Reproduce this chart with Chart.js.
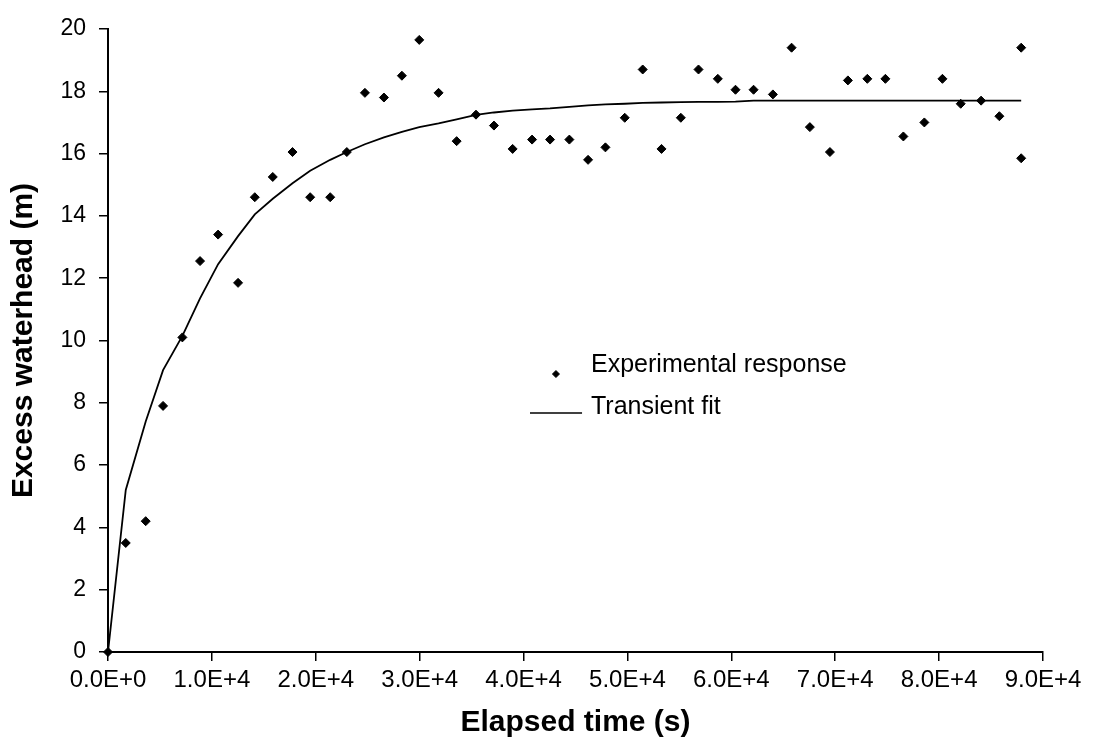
<!DOCTYPE html>
<html>
<head>
<meta charset="utf-8">
<script src="https://cdn.jsdelivr.net/npm/chart.js@4/dist/chart.umd.min.js"></script>
<style>
  html, body { margin: 0; padding: 0; background: #fff; }
  #wrap { width: 1095px; height: 756px; }
</style>
</head>
<body>
<div id="wrap"><canvas id="c" width="1095" height="756"></canvas></div>
<script>
// Elapsed time (s) of each experimental reading
const times = [0, 1710, 3630, 5300, 7160, 8860, 10600, 12520, 14130, 15860,
  17760, 19460, 21390, 22990, 24730, 26560, 28290, 29960, 31820, 33560,
  35420, 37150, 38950, 40820, 42550, 44410, 46210, 47880, 49740, 51470,
  53280, 55140, 56840, 58700, 60400, 62140, 64000, 65800, 67560, 69490,
  71220, 73090, 74830, 76560, 78580, 80320, 82080, 84040, 85800, 87900, 87900];
// Experimental excess waterhead (m)
const head = [0, 3.5, 4.2, 7.9, 10.1, 12.55, 13.4, 11.85, 14.6, 15.25,
  16.05, 14.6, 14.6, 16.05, 17.95, 17.8, 18.5, 19.65, 17.95, 16.4,
  17.25, 16.9, 16.15, 16.45, 16.45, 16.45, 15.8, 16.2, 17.15, 18.7,
  16.15, 17.15, 18.7, 18.4, 18.05, 18.05, 17.9, 19.4, 16.85, 16.05,
  18.35, 18.4, 18.4, 16.55, 17.0, 18.4, 17.6, 17.7, 17.2, 19.4, 15.85];
// Transient fit curve (m)
const fitTimes = [0, 1710, 3630, 5300, 7160, 8860, 10600, 12520, 14130, 15860,
  17760, 19460, 21390, 22990, 24730, 26560, 28290, 29960, 31820, 33560,
  35420, 37150, 38950, 40820, 42550, 44410, 46210, 47880, 49740, 51470,
  53280, 55140, 56840, 58700, 60400, 62140, 64000, 65800, 67560, 69490,
  71220, 73090, 74830, 76560, 78580, 80320, 82080, 84040, 85800, 87900];
const fitHead = [0, 5.2, 7.4, 9.05, 10.15, 11.35, 12.45, 13.35, 14.05, 14.55,
  15.05, 15.45, 15.8, 16.05, 16.3, 16.52, 16.7, 16.85, 16.97, 17.1,
  17.24, 17.32, 17.38, 17.42, 17.45, 17.5, 17.55, 17.58, 17.6, 17.63,
  17.64, 17.65, 17.66, 17.66, 17.67, 17.7, 17.7, 17.7, 17.7, 17.7,
  17.7, 17.7, 17.7, 17.7, 17.7, 17.7, 17.7, 17.7, 17.7, 17.7];
const xTickLabels = ['0.0E+0', '1.0E+4', '2.0E+4', '3.0E+4', '4.0E+4',
  '5.0E+4', '6.0E+4', '7.0E+4', '8.0E+4', '9.0E+4'];
const seriesNames = ['Experimental response', 'Transient fit'];
const axisTitles = ['Elapsed time (s)', 'Excess waterhead (m)'];

const FONT = "'Liberation Sans', Arial, Helvetica, sans-serif";

const insideLegend = {
  id: 'insideLegend',
  afterDraw(chart) {
    const ctx = chart.ctx;
    const a = chart.chartArea;
    const w = a.right - a.left, h = a.bottom - a.top;
    const textX = a.left + w * 0.5166;
    const row1 = a.top + h * 0.5393;
    const row2 = a.top + h * 0.6075;
    ctx.save();
    ctx.fillStyle = '#000';
    ctx.strokeStyle = '#000';
    // marker for experimental response
    Chart.helpers.drawPoint(ctx, {pointStyle: 'rectRot', radius: 3.5, borderWidth: 1, rotation: 0},
      a.left + w * 0.4791, a.top + h * 0.5538);
    // line for transient fit
    ctx.lineWidth = 1.5;
    ctx.beginPath();
    ctx.moveTo(a.left + w * 0.4513, a.top + h * 0.6164);
    ctx.lineTo(a.left + w * 0.5070, a.top + h * 0.6164);
    ctx.stroke();
    ctx.font = '25px ' + FONT;
    ctx.textAlign = 'left';
    ctx.textBaseline = 'middle';
    ctx.fillText(chart.data.datasets[0].label, textX, row1);
    ctx.fillText(chart.data.datasets[1].label, textX, row2);
    ctx.restore();
  }
};

new Chart(document.getElementById('c'), {
  type: 'scatter',
  data: {
    datasets: [
      {
        label: seriesNames[0],
        data: times.map((t, i) => ({x: t, y: head[i]})),
        pointStyle: 'rectRot',
        pointRadius: 4.5,
        pointBorderWidth: 1,
        backgroundColor: '#000',
        borderColor: '#000',
        showLine: false,
        clip: false,
        order: 1
      },
      {
        label: seriesNames[1],
        data: fitTimes.map((t, i) => ({x: t, y: fitHead[i]})),
        showLine: true,
        pointRadius: 0,
        borderColor: '#000',
        borderWidth: 1.8,
        tension: 0,
        fill: false,
        clip: false,
        order: 2
      }
    ]
  },
  options: {
    responsive: false,
    animation: false,
    devicePixelRatio: 1,
    layout: { padding: { top: 29, right: 52, bottom: 0, left: 0 } },
    plugins: { legend: { display: false }, tooltip: { enabled: false } },
    scales: {
      x: {
        type: 'linear',
        min: 0, max: 90000,
        afterFit(scale) { scale.height = 104; },
        grid: { display: true, drawOnChartArea: false, drawTicks: true, tickLength: 9, color: '#000', lineWidth: 1.5 },
        border: { display: true, color: '#000', width: 2 },
        ticks: {
          stepSize: 10000, autoSkip: false, maxRotation: 0, padding: 5, color: '#000',
          font: { family: FONT, size: 24 },
          callback: (v) => xTickLabels[Math.round(v / 10000)]
        },
        title: { display: true, text: axisTitles[0], color: '#000',
          font: { family: FONT, size: 30, weight: 'bold' }, padding: { top: 0, bottom: 15 } }
      },
      y: {
        type: 'linear',
        min: 0, max: 20,
        afterFit(scale) { scale.width = 108; },
        grid: { display: true, drawOnChartArea: false, drawTicks: true, tickLength: 9, color: '#000', lineWidth: 1.5 },
        border: { display: true, color: '#000', width: 2 },
        ticks: { stepSize: 2, padding: 13, color: '#000', font: { family: FONT, size: 23 } },
        title: { display: true, text: axisTitles[1], color: '#000',
          font: { family: FONT, size: 30, weight: 'bold' }, padding: { top: 6, bottom: 0 } }
      }
    }
  },
  plugins: [insideLegend]
});
</script>
</body>
</html>
